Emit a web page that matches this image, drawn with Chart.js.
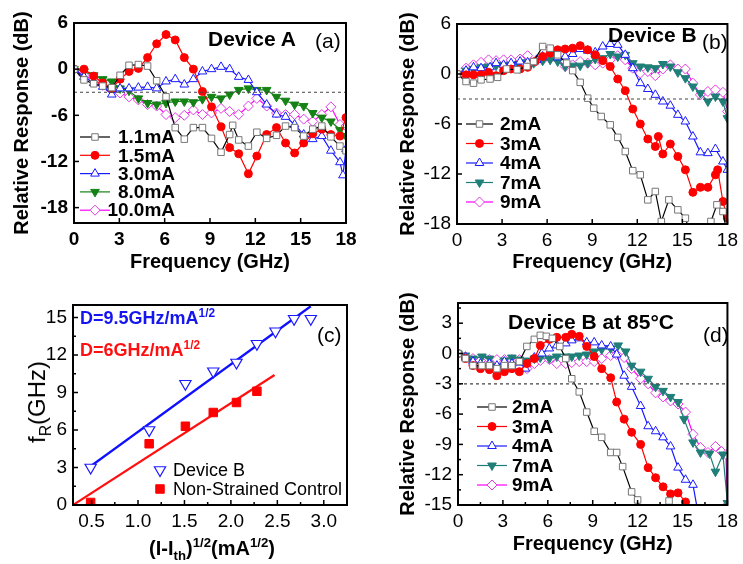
<!DOCTYPE html>
<html lang="en">
<head>
<meta charset="utf-8">
<title>Device A / Device B modulation response</title>
<script src="https://cdn.jsdelivr.net/npm/chart.js@4"></script>
<style>
	body{margin:0;background:#fff}
	#wrap{position:relative;width:743px;height:564px;overflow:hidden;font-family:"Liberation Sans",Arial,sans-serif;color:#000}
	canvas{position:absolute}
	.t{position:absolute;white-space:nowrap;line-height:1;z-index:2}
	.b{font-weight:bold}
	sup,sub{font-size:66%;line-height:0}
</style>
</head>
<body>
<div id="wrap">
	<canvas id="pa" width="371" height="282" style="left:0;top:0"></canvas>
	<canvas id="pb" width="372" height="282" style="left:371px;top:0"></canvas>
	<canvas id="pc" width="371" height="282" style="left:0;top:282px"></canvas>
	<canvas id="pd" width="372" height="282" style="left:371px;top:282px"></canvas>

	<div class="t b" style="left:208px;top:28px;font-size:21px">Device A</div>
	<div class="t" style="left:315px;top:30px;font-size:21px">(a)</div>
	<div class="t b" style="left:608px;top:24px;font-size:21px">Device B</div>
	<div class="t" style="left:702px;top:31px;font-size:21px">(b)</div>
	<div class="t" style="left:317px;top:324px;font-size:21px">(c)</div>
	<div class="t b" style="left:80px;top:309px;font-size:18px;color:#1515ef">D=9.5GHz/mA<sup>1/2</sup></div>
	<div class="t b" style="left:80px;top:341px;font-size:18px;color:#ff1010">D=6GHz/mA<sup>1/2</sup></div>
	<div class="t b" style="left:508px;top:311px;font-size:21px">Device B at 85°C</div>
	<div class="t" style="left:703px;top:324px;font-size:21px">(d)</div>
	<div class="t" style="left:37px;top:402px;font-size:24px;transform:translate(-50%,-50%) rotate(-90deg)">f<sub>R</sub>(GHz)</div>
	<div class="t b" style="left:212px;top:548px;font-size:20px;transform:translate(-50%,-50%)">(I-I<sub>th</sub>)<sup>1/2</sup>(mA<sup>1/2</sup>)</div>
</div>

<script>
// ---------------- data ----------------
// (a) Device A
const aX11 = [0, 0.66, 1.3, 1.9, 2.5, 3.05, 3.64, 4.26, 4.87, 5.47, 6.09, 6.7, 7.3, 7.9, 8.5, 9.1, 9.73, 10.3, 10.5, 10.9, 11.54, 12.1, 12.75, 13.4, 14.0, 14.6, 15.2, 15.8, 16.4, 17.0, 17.6, 18.0];
const aY11 = [0, -1.4, -1.9, -2.2, -2.4, -0.8, 0.5, 0.6, 0.4, -1.5, -3.6, -7.6, -9.1, -7.6, -7.6, -9.0, -10.8, -8.5, -7.3, -9.2, -10.0, -8.2, -9.0, -8.6, -7.4, -7.6, -8.7, -7.8, -7.4, -8.8, -10.0, -10.6];
const aX15 = [0, 0.66, 1.3, 1.9, 2.5, 3.05, 3.64, 4.26, 4.87, 5.47, 6.09, 6.7, 7.3, 7.9, 8.5, 9.1, 9.73, 10.3, 10.9, 11.54, 12.1, 12.75, 13.4, 14.0, 14.6, 15.2, 15.8, 16.4, 17.0, 17.6, 18.0];
const aY15 = [0, 0, -0.9, -1.8, -2.5, -1.3, -0.3, 0.1, 1.5, 3.3, 4.5, 3.8, 1.5, 0, -2.9, -4.9, -7.5, -10.2, -11.0, -13.6, -11.3, -8.5, -7.6, -9.6, -10.9, -9.6, -8.4, -7.8, -8.5, -8.7, -6.3];
const aX30 = [0, 0.66, 1.3, 1.9, 2.5, 3.05, 3.64, 4.26, 4.87, 5.47, 6.09, 6.7, 7.3, 7.9, 8.5, 9.1, 9.73, 10.3, 10.9, 11.54, 12.1, 12.75, 13.4, 14.0, 14.6, 15.2, 15.8, 16.4, 17.0, 17.6, 17.8, 18.0];
const aY30 = [0, -1.0, -1.8, -2.3, -3.3, -2.5, -2.5, -2.4, -2.3, -2.5, -1.6, -1.3, -2.0, -1.3, -0.3, 0, 0.3, 0, -1.0, -1.4, -3.0, -4.6, -5.9, -6.2, -7.2, -8.5, -9.1, -8.7, -10.6, -12.1, -13.8, -10.4];
const aX80 = [0, 0.66, 1.3, 1.9, 2.5, 3.05, 3.64, 4.26, 4.87, 5.47, 6.09, 6.7, 7.3, 7.9, 8.5, 9.1, 9.73, 10.3, 10.9, 11.54, 12.1, 12.75, 13.4, 14.0, 14.6, 15.2, 15.8, 16.4, 17.0, 17.6, 18.0];
const aY80 = [0, -0.3, -0.8, -1.3, -1.6, -2.5, -2.8, -3.8, -4.4, -4.6, -4.4, -4.2, -4.2, -4.3, -3.9, -3.6, -3.8, -3.3, -2.7, -2.5, -2.7, -2.7, -3.6, -4.1, -4.6, -4.8, -5.7, -6.3, -6.8, -7.9, -8.7];
const aX100 = [0, 0.66, 1.3, 1.9, 2.5, 3.05, 3.64, 4.26, 4.87, 5.47, 6.09, 6.7, 7.3, 7.9, 8.5, 9.1, 9.73, 10.3, 10.9, 11.54, 12.1, 12.75, 13.4, 14.0, 14.6, 15.2, 15.8, 16.4, 17.0, 17.6, 18.0];
const aY100 = [0, -0.8, -1.4, -2.1, -2.7, -3.1, -3.6, -4.0, -4.6, -4.8, -5.9, -6.3, -6.0, -5.3, -5.9, -5.7, -5.1, -5.5, -5.9, -4.8, -3.8, -4.8, -5.7, -5.9, -5.9, -6.5, -6.8, -5.9, -4.9, -7.2, -7.4];
const aLabels = ['1.1mA', '1.5mA', '3.0mA', '8.0mA', '10.0mA'];

// (b) Device B
const bX2 = [0, 0.6, 1.1, 1.6, 2.2, 2.7, 3.3, 4.0, 4.65, 5.1, 5.7, 6.2, 6.7, 7.3, 7.7, 8.2, 8.7, 9.1, 9.6, 10.2, 10.7, 11.2, 11.7, 12.2, 12.7, 13.2, 13.6, 14.1, 14.7, 15.2, 15.6, 16.4, 16.9, 17.3, 17.7, 18.0];
const bY2 = [0, -0.9, -1.1, -0.7, -0.6, -0.4, 0.6, 0.5, 0.9, 1.5, 3.3, 3.1, 2.3, 1.3, 0.4, -1.0, -2.9, -4.1, -5.1, -6.1, -7.6, -9.3, -11.6, -12.1, -15.1, -14.1, -17.7, -15.1, -16.3, -17.3, -19.5, -19.5, -17.7, -15.7, -16.5, -19.5];
const bX3 = [0, 0.6, 1.1, 1.6, 2.1, 2.6, 3.1, 3.6, 4.2, 4.7, 5.2, 5.7, 6.2, 6.7, 7.2, 7.7, 8.2, 8.7, 9.2, 9.7, 10.2, 10.7, 11.2, 11.7, 12.2, 12.7, 13.2, 13.4, 13.7, 14.2, 14.7, 15.2, 15.7, 16.2, 16.7, 17.2, 17.35, 17.7, 18.0];
const bY3 = [0, -0.1, -0.1, -0.1, 0.2, -0.2, 0.4, 0.6, 0.6, 0.8, 1.5, 2.1, 2.5, 2.9, 3.0, 3.1, 3.4, 2.9, 2.3, 1.6, 0.9, -0.6, -2.0, -4.2, -6.0, -7.8, -8.7, -7.5, -9.6, -8.4, -9.9, -11.5, -14.2, -13.6, -13.6, -12.1, -11.5, -15.3, -17.3];
const bX4 = [0, 0.6, 1.1, 1.6, 2.2, 2.6, 3.1, 3.6, 4.2, 4.7, 5.3, 5.7, 6.2, 6.7, 7.2, 7.7, 8.2, 8.7, 9.2, 9.7, 10.2, 10.7, 11.2, 11.7, 12.2, 12.7, 13.2, 13.7, 14.2, 14.7, 15.2, 15.7, 16.2, 16.7, 17.2, 17.7, 18.0];
const bY4 = [0, 0.4, 0.8, 0.7, 0.8, 1.3, 1.1, 1.3, 1.5, 1.4, 1.7, 2.1, 2.5, 2.0, 2.1, 2.4, 3.0, 2.8, 2.6, 3.3, 3.6, 3.5, 2.3, 0.7, -1.1, -1.8, -2.5, -3.3, -3.8, -4.9, -5.7, -7.5, -9.4, -9.5, -9.0, -10.5, -11.5];
const bX7 = [0, 0.6, 1.1, 1.6, 2.1, 2.6, 3.1, 3.6, 4.1, 4.6, 5.1, 5.7, 6.2, 6.7, 7.2, 7.7, 8.2, 8.7, 9.2, 9.7, 10.2, 10.7, 11.2, 11.7, 12.2, 12.7, 13.2, 13.7, 14.2, 14.7, 15.2, 15.7, 16.2, 16.7, 17.2, 17.7, 18.0];
const bY7 = [0, 0.4, 0.6, 0.8, 0.9, 1.0, 1.1, 1.1, 1.2, 1.4, 1.3, 1.6, 1.7, 1.5, 0.9, 1.0, 1.0, 1.3, 1.8, 1.9, 2.4, 2.1, 2.3, 1.3, 0.9, 0.8, 0.7, 1.2, 0.9, 0.2, -0.5, -1.5, -2.3, -3.3, -2.7, -3.3, -5.3];
const bX9 = [0, 0.6, 1.1, 1.6, 2.1, 2.6, 3.1, 3.6, 4.2, 4.7, 5.2, 5.7, 6.2, 6.7, 7.2, 7.7, 8.2, 8.7, 9.2, 9.7, 10.2, 10.7, 11.2, 11.7, 12.2, 12.7, 13.2, 13.7, 14.2, 14.7, 15.2, 15.7, 16.2, 16.7, 17.2, 17.7, 18.0];
const bY9 = [0, 0.7, 1.1, 1.4, 1.7, 1.6, 1.7, 1.7, 1.8, 2.2, 1.5, 1.7, 1.9, 1.8, 0.9, 1.1, 1.5, 1.3, 1.1, 1.3, 1.7, 2.2, 1.7, 0.7, 0.1, 0.3, -0.2, 0.6, 1.1, 0.6, 0.6, -1.1, -2.5, -2.1, -1.9, -2.2, -4.5];
const bLabels = ['2mA', '3mA', '4mA', '7mA', '9mA'];

// (c) resonance frequency vs sqrt(I - Ith)
const cX = [0.49, 1.12, 1.51, 1.81, 2.06, 2.28, 2.48, 2.68, 2.86];
const cDevB = [3.0, 6.0, 9.7, 10.7, 11.4, 12.9, 13.9, 14.9, 14.9];
const cCtrlX = [0.49, 1.12, 1.51, 1.81, 2.06, 2.28];
const cCtrl = [0.2, 4.9, 6.3, 7.4, 8.2, 9.1];
const cFitBX = [0.49, 2.86];
const cFitBY = [3.1, 15.9];
const cFitCX = [0.3, 2.47];
const cFitCY = [0, 10.4];

// (d) Device B at 85 C
const dX2 = [0, 0.5, 1.0, 1.6, 2.1, 2.6, 3.1, 3.6, 4.1, 4.6, 5.1, 5.5, 5.9, 6.3, 6.8, 7.2, 7.6, 8.1, 8.6, 9.1, 9.6, 10.2, 10.6, 11.0, 11.6, 12.0, 12.4, 13.6, 14.1, 14.5];
const dY2 = [0, -0.5, -1.2, -1.2, -1.2, -1.5, -1.2, -1.2, -0.8, 0.7, 1.4, 1.8, 1.7, 1.5, 0.7, -0.5, -2.5, -3.8, -5.8, -7.7, -8.3, -9.8, -9.8, -11.2, -13.7, -14.5, -16.5, -16.5, -14.6, -16.5];
const dX3 = [0, 0.5, 1.0, 1.5, 2.1, 2.6, 3.1, 3.6, 4.1, 4.6, 5.1, 5.5, 6.1, 6.6, 7.2, 7.6, 8.1, 8.6, 9.1, 9.6, 10.2, 10.6, 11.1, 11.6, 12.2, 12.7, 13.2, 13.7, 14.2, 14.7, 15.2, 15.6];
const dY3 = [0, -0.5, -1.2, -1.5, -1.6, -2.2, -1.8, -1.5, -1.8, -1.0, -0.5, 0.8, 1.4, 1.6, 1.6, 1.9, 1.7, 0.7, -0.3, -1.5, -2.4, -4.8, -6.5, -7.8, -9.0, -11.3, -12.3, -13.2, -13.9, -13.8, -14.7, -16.0];
const dX4 = [0, 0.5, 1.0, 1.5, 2.1, 2.6, 3.1, 3.6, 4.1, 4.5, 5.1, 5.6, 6.1, 6.6, 7.2, 7.6, 8.1, 8.6, 9.1, 9.6, 10.2, 10.6, 11.1, 11.6, 12.2, 12.7, 13.2, 13.7, 14.2, 14.7, 15.2, 15.7, 16.0];
const dY4 = [0, -0.4, -0.8, -1.0, -1.0, -1.2, -0.8, -1.0, -0.9, -1.5, -0.4, 0.0, 0.5, 0.8, 1.0, 1.3, 1.5, 1.1, 1.1, 0.8, 0.7, -0.1, -2.2, -3.3, -5.2, -7.2, -7.7, -8.3, -9.2, -11.3, -12.5, -13.0, -15.5];
const dX7 = [0, 0.5, 1.0, 1.6, 2.1, 2.6, 3.1, 3.6, 4.1, 4.6, 5.1, 5.5, 6.1, 6.6, 7.2, 7.6, 8.1, 8.6, 9.1, 9.6, 10.2, 10.7, 11.2, 11.6, 12.2, 12.7, 13.2, 13.7, 14.2, 14.7, 15.1, 15.7, 16.2, 16.8, 17.2, 17.7, 18.0];
const dY7 = [0, -0.2, -0.5, -0.3, -0.5, -1.3, -0.7, -0.4, -0.6, -0.7, -0.5, -0.4, -0.5, -0.3, -0.3, -0.3, -0.2, -0.1, 0.2, 0.4, 0.5, 0.8, 0.2, -1.2, -1.8, -2.5, -3.3, -3.7, -4.3, -4.8, -6.5, -8.8, -9.8, -9.9, -11.7, -10.0, -14.8];
const dX9 = [0, 0.5, 1.0, 1.5, 2.1, 2.6, 3.1, 3.6, 4.1, 4.6, 5.1, 5.5, 6.1, 6.6, 7.2, 7.6, 8.1, 8.6, 9.1, 9.6, 10.2, 10.6, 11.1, 11.6, 12.2, 12.7, 13.2, 13.7, 14.2, 14.7, 15.2, 15.7, 16.2, 16.7, 17.2, 17.6, 17.9, 18.0];
const dY9 = [0, -0.3, -0.5, -0.7, -0.6, -0.6, -0.6, -0.6, -0.6, -1.5, -1.0, -0.7, -0.6, -1.0, -1.0, -0.9, -0.8, -0.8, -0.8, -0.5, -0.2, -0.1, -0.4, -1.5, -2.5, -3.0, -3.9, -4.3, -4.7, -5.0, -5.8, -8.0, -9.3, -9.8, -9.2, -9.7, -10.0, -15.0];

// -3 dB reference line
const ref3X = [0, 18];
const ref3Y = [-3, -3];

// tick labels
const freqTicks = [0, 3, 6, 9, 12, 15, 18];
const aYTicks = [6, 0, -6, -12, -18];
const bYTicks = [6, 0, -6, -12, -18];
const cXTicks = [0.5, 1.0, 1.5, 2.0, 2.5, 3.0];
const cYTicks = [0, 3, 6, 9, 12, 15];
const dYTicks = [3, 0, -3, -6, -9, -12, -15];
// -------------------------------------------------------------

const FONT = '"Liberation Sans", Arial, sans-serif';
Chart.defaults.font.family = FONT;
Chart.defaults.color = '#000';

const pts = (xs, ys) => xs.map((x, i) => ({ x, y: ys[i] }));

// marker / line styles
const stBlack = { borderColor: '#000', pointStyle: 'rect', pointRadius: 4.6, pointBorderColor: '#777', pointBackgroundColor: '#fff' };
const stRed = { borderColor: '#ff0000', pointStyle: 'circle', pointRadius: 4, pointBorderColor: '#ff0000', pointBackgroundColor: '#ff0000' };
const stBlue = { borderColor: '#1a1aff', pointStyle: 'triangle', pointRadius: 5, pointBorderColor: '#1a1aff', pointBackgroundColor: '#fff' };
const stGreen = { borderColor: '#148214', pointStyle: 'triangle', pointRotation: 180, pointRadius: 5, pointBorderColor: '#148214', pointBackgroundColor: '#148214' };
const stTeal = { borderColor: '#1f7f78', pointStyle: 'triangle', pointRotation: 180, pointRadius: 5, pointBorderColor: '#1f7f78', pointBackgroundColor: '#1f7f78' };
const stMag = { borderColor: '#ff00ff', pointStyle: 'rectRot', pointRadius: 5, pointBorderColor: '#e03ce0', pointBackgroundColor: '#fff' };

const line = (label, xs, ys, st) => Object.assign({
	label, data: pts(xs, ys), borderWidth: 1.2, pointBorderWidth: 1, tension: 0,
}, st);

const refLine = () => ({
	label: '', data: pts(ref3X, ref3Y), borderColor: '#444', borderWidth: 1.2,
	borderDash: [3, 3], pointRadius: 0,
});

// inward tick marks + closed frame
const frameTicks = {
	id: 'frameTicks',
	afterDatasetsDraw(chart, args, opts) {
		const { ctx, chartArea: a } = chart;
		const xs = chart.scales.x, ys = chart.scales.y;
		ctx.save();
		ctx.strokeStyle = '#000';
		ctx.lineWidth = 1.5;
		const mark = (scale, horiz, vals, len) => vals.forEach((v) => {
			const p = scale.getPixelForValue(v);
			ctx.beginPath();
			if (horiz) { ctx.moveTo(p, a.bottom); ctx.lineTo(p, a.bottom - len); }
			else { ctx.moveTo(a.left, p); ctx.lineTo(a.left + len, p); }
			ctx.stroke();
		});
		const major = (s) => s.ticks.map((t) => t.value);
		const mids = (s) => {
			const v = major(s).slice().sort((p, q) => p - q);
			const m = [];
			for (let i = 0; i < v.length - 1; i++) m.push((v[i] + v[i + 1]) / 2);
			const step = v[1] - v[0];
			if (v[v.length - 1] + step / 2 <= s.max) m.push(v[v.length - 1] + step / 2);
			if (v[0] - step / 2 >= s.min) m.push(v[0] - step / 2);
			return m;
		};
		mark(xs, true, major(xs), 5);
		mark(ys, false, major(ys), 5);
		if (opts.minor) {
			mark(xs, true, mids(xs), 3);
			mark(ys, false, mids(ys), 3);
		}
		ctx.lineWidth = 2;
		ctx.strokeRect(a.left, a.top, a.right - a.left, a.bottom - a.top);
		ctx.restore();
	},
};

// legend drawn inside the plot, Origin style
const panelLegend = {
	id: 'panelLegend',
	afterDatasetsDraw(chart, args, o) {
		if (!o || !o.rows) return;
		const ctx = chart.ctx;
		const drawPoint = Chart.helpers && Chart.helpers.drawPoint;
		ctx.save();
		o.rows.forEach((idx, i) => {
			const ds = chart.data.datasets[idx];
			const y = o.y + i * o.gap;
			if (o.x1 > o.x0) {
				ctx.strokeStyle = ds.borderColor;
				ctx.lineWidth = ds.borderWidth;
				ctx.beginPath(); ctx.moveTo(o.x0, y); ctx.lineTo(o.x1, y); ctx.stroke();
			}
			ctx.strokeStyle = ds.pointBorderColor;
			ctx.fillStyle = ds.pointBackgroundColor;
			ctx.lineWidth = ds.pointBorderWidth || 1;
			if (drawPoint) {
				drawPoint(ctx, { pointStyle: ds.pointStyle, rotation: ds.pointRotation || 0, radius: ds.pointRadius, borderWidth: ds.pointBorderWidth || 1 }, o.mx, y);
			}
			ctx.fillStyle = '#000';
			ctx.font = o.font;
			ctx.textAlign = o.align;
			ctx.textBaseline = 'middle';
			ctx.fillText(ds.label, o.tx, y + 1);
		});
		ctx.restore();
	},
};

function makePanel(id, c) {
	const tickFont = { size: 19, weight: c.tickBold ? 'bold' : 'normal' };
	return new Chart(document.getElementById(id), {
		type: 'line',
		data: { datasets: c.datasets },
		options: {
			responsive: false,
			animation: false,
			devicePixelRatio: 1,
			layout: { padding: { top: c.pad[0], right: c.pad[1], bottom: 0, left: 0 } },
			plugins: {
				legend: { display: false },
				tooltip: { enabled: false },
				frameTicks: { minor: !!c.minor },
				panelLegend: c.legend,
			},
			scales: {
				x: {
					type: 'linear', min: c.xr[0], max: c.xr[1],
					afterBuildTicks: (s) => { s.ticks = c.xt.map((v) => ({ value: v })); },
					afterFit: (s) => { s.height = c.xh; },
					grid: { display: false, drawTicks: false },
					border: { display: false },
					ticks: { font: tickFont, padding: 5, maxRotation: 0, autoSkip: false, callback: c.xfmt || ((v) => String(v)) },
					title: { display: !!c.xTitle, text: c.xTitle, font: { size: 20, weight: 'bold' }, padding: { top: 0, bottom: 8 } },
				},
				y: {
					type: 'linear', min: c.yr[0], max: c.yr[1],
					afterBuildTicks: (s) => { s.ticks = c.yt.map((v) => ({ value: v })); },
					afterFit: (s) => { s.width = c.yw; },
					grid: { display: false, drawTicks: false },
					border: { display: false },
					ticks: { font: tickFont, padding: 6, autoSkip: false, callback: (v) => String(v) },
					title: { display: !!c.yTitle, text: c.yTitle, font: { size: 20, weight: 'bold' }, padding: { top: c.yTitlePad, bottom: 0 } },
				},
			},
		},
		plugins: [frameTicks, panelLegend],
	});
}

// (a)
makePanel('pa', {
	datasets: [
		refLine(),
		line(aLabels[0], aX11, aY11, stBlack),
		line(aLabels[1], aX15, aY15, stRed),
		line(aLabels[2], aX30, aY30, stBlue),
		line(aLabels[3], aX80, aY80, stGreen),
		line(aLabels[4], aX100, aY100, stMag),
	],
	pad: [23, 25], xh: 59, yw: 74,
	xr: [0, 18], yr: [-20, 6], xt: freqTicks, yt: aYTicks, tickBold: true,
	xTitle: 'Frequency (GHz)', yTitle: 'Relative Response (dB)', yTitlePad: 10,
	legend: { rows: [1, 2, 3, 4, 5], y: 137, gap: 18.3, x0: 80, x1: 110, mx: 95, tx: 175, align: 'right', font: 'bold 19px ' + FONT },
});

// (b)
makePanel('pb', {
	datasets: [
		refLine(),
		line(bLabels[0], bX2, bY2, stBlack),
		line(bLabels[1], bX3, bY3, stRed),
		line(bLabels[2], bX4, bY4, stBlue),
		line(bLabels[3], bX7, bY7, stTeal),
		line(bLabels[4], bX9, bY9, stMag),
	],
	pad: [24, 14], xh: 58, yw: 86,
	xr: [0, 18], yr: [-18, 6], xt: freqTicks, yt: bYTicks,
	xTitle: 'Frequency (GHz)', yTitle: 'Relative Response (dB)', yTitlePad: 25,
	legend: { rows: [1, 2, 3, 4, 5], y: 124, gap: 19.5, x0: 95, x1: 122, mx: 108.5, tx: 129, align: 'left', font: 'bold 19px ' + FONT },
});

// (c)
makePanel('pc', {
	datasets: [
		{ label: 'Device B', data: pts(cX, cDevB), showLine: false, pointStyle: 'triangle', pointRotation: 180, pointRadius: 6.5, pointBorderWidth: 1.2, pointBorderColor: '#1a1aff', pointBackgroundColor: '#fff', borderColor: '#1a1aff' },
		{ label: 'Non-Strained Control', data: pts(cCtrlX, cCtrl), showLine: false, pointStyle: 'rect', pointRadius: 6, pointBorderWidth: 1, pointBorderColor: '#ff0000', pointBackgroundColor: '#ff0000', borderColor: '#ff0000' },
		{ label: '', data: pts(cFitBX, cFitBY), borderColor: '#1010ff', borderWidth: 2.2, pointRadius: 0 },
		{ label: '', data: pts(cFitCX, cFitCY), borderColor: '#ff1010', borderWidth: 2.2, pointRadius: 0 },
	],
	pad: [23, 24], xh: 59, yw: 73,
	xr: [0.3, 3.25], yr: [0, 16], xt: cXTicks, yt: cYTicks, minor: true,
	xfmt: (v) => v.toFixed(1),
	legend: { rows: [0, 1], y: 188, gap: 19, x0: 0, x1: 0, mx: 160, tx: 173, align: 'left', font: '18px ' + FONT },
});

// (d)
makePanel('pd', {
	datasets: [
		refLine(),
		line(bLabels[0], dX2, dY2, stBlack),
		line(bLabels[1], dX3, dY3, stRed),
		line(bLabels[2], dX4, dY4, stBlue),
		line(bLabels[3], dX7, dY7, stTeal),
		line(bLabels[4], dX9, dY9, stMag),
	],
	pad: [21, 13], xh: 59, yw: 87,
	xr: [0, 18], yr: [-15, 5], xt: freqTicks, yt: dYTicks, minor: true,
	xTitle: 'Frequency (GHz)', yTitle: 'Relative Response (dB)', yTitlePad: 25,
	legend: { rows: [1, 2, 3, 4, 5], y: 125, gap: 19.5, x0: 106, x1: 136, mx: 121, tx: 141, align: 'left', font: 'bold 19px ' + FONT },
});
</script>
</body>
</html>
